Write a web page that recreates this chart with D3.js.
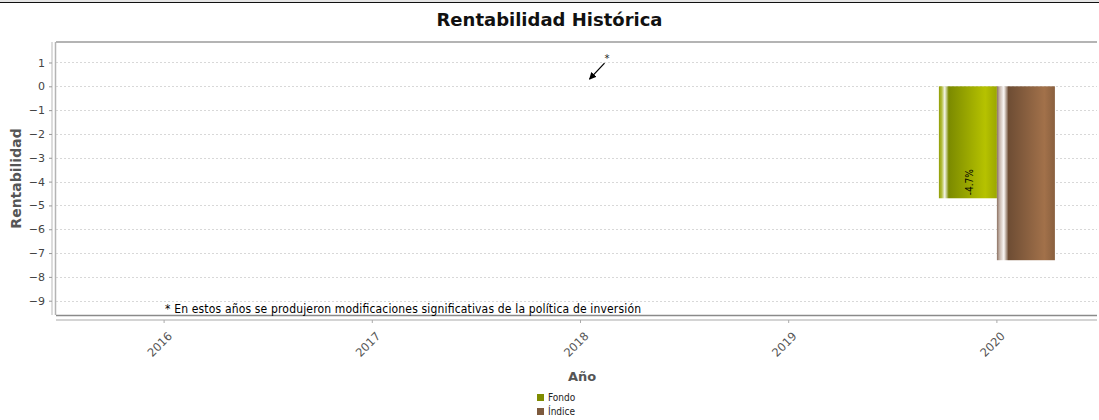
<!DOCTYPE html>
<html>
<head>
<meta charset="utf-8">
<script src="https://cdn.jsdelivr.net/npm/d3@7"></script>
<style>
  body { margin: 0; background: #fff; }
  svg { display: block; font-family: "DejaVu Sans", sans-serif; }
</style>
</head>
<body>
<div id="chart"></div>
<script>
// data
var years = ["2016", "2017", "2018", "2019", "2020"];
var fondo = [null, null, null, null, -4.7];
var indice = [null, null, null, null, -7.3];
var seriesNames = ["Fondo", "Índice"];
var yTicks = [1, 0, -1, -2, -3, -4, -5, -6, -7, -8, -9];
var noteText = "* En estos años se produjeron modificaciones significativas de la política de inversión";
var pointerYear = "2018";
var pointerValue = 0.3;

var width = 1099, height = 420;
var plot = {left: 56, top: 42, right: 1097, bottom: 315};

var svg = d3.select("#chart").append("svg").attr("width", width).attr("height", height);

// gradients for the bars
var defs = svg.append("defs");
function grad(id, stops) {
  var g = defs.append("linearGradient").attr("id", id).attr("x1", "0%").attr("x2", "100%").attr("y1", "0%").attr("y2", "0%");
  stops.forEach(function(s) { g.append("stop").attr("offset", s[0]).attr("stop-color", s[1]); });
}
grad("gFondo", [[0, "#8f9c00"], [0.05, "#b4bf40"], [0.1, "#f4f4ea"], [0.17, "#7b8a00"], [0.8, "#b6c200"], [1, "#9ba700"]]);
grad("gIndice", [[0, "#8d7262"], [0.05, "#c8b8ae"], [0.12, "#fbf8f6"], [0.2, "#6e4d34"], [0.82, "#a2714a"], [1, "#8a603f"]]);

// top frame line
svg.append("rect").attr("x", 0).attr("y", 0).attr("width", width).attr("height", 2).attr("fill", "#e4e4e4");
svg.append("line").attr("x1", 0).attr("x2", width).attr("y1", 2.5).attr("y2", 2.5).attr("stroke", "#111").attr("stroke-width", 1);

// title
svg.append("text").attr("x", width / 2).attr("y", 26).attr("text-anchor", "middle")
  .attr("font-size", 18).attr("font-weight", "bold").attr("fill", "#111")
  .text("Rentabilidad Histórica");

// scales
var x = d3.scaleBand().domain(years).range([plot.left + 4, plot.right + 4]).padding(0);
var y = d3.scaleLinear().domain([-9.6, 1.86]).range([plot.bottom, plot.top]);

// grid lines
svg.append("g").selectAll("line").data(yTicks).enter().append("line")
  .attr("x1", plot.left).attr("x2", plot.right)
  .attr("y1", function(d) { return Math.round(y(d)) + 0.5; })
  .attr("y2", function(d) { return Math.round(y(d)) + 0.5; })
  .attr("stroke", "#d8d8d8").attr("stroke-dasharray", "2,2");

// plot border
svg.append("line").attr("x1", plot.left).attr("x2", plot.right).attr("y1", plot.top).attr("y2", plot.top)
  .attr("stroke", "#b4b4b4").attr("stroke-width", 2);
svg.append("line").attr("x1", plot.left - 0.5).attr("x2", plot.left - 0.5).attr("y1", plot.top).attr("y2", plot.bottom)
  .attr("stroke", "#b4b4b4").attr("stroke-width", 1.5);
svg.append("line").attr("x1", plot.left).attr("x2", plot.right).attr("y1", plot.bottom + 0.5).attr("y2", plot.bottom + 0.5)
  .attr("stroke", "#8a8a8a").attr("stroke-width", 1.5);

// y axis
var yAxis = svg.append("g").attr("transform", "translate(52,0)")
  .call(d3.axisLeft(y).tickValues(yTicks).tickSize(3).tickPadding(4).tickFormat(d3.format("d")));
yAxis.select(".domain").attr("stroke", "#d0d0d0").attr("stroke-width", 1.5)
  .attr("d", "M0," + plot.top + "V" + plot.bottom);
yAxis.selectAll(".tick line").attr("stroke", "#999");
yAxis.selectAll(".tick text").attr("font-size", 11).attr("fill", "#444")
  .attr("font-family", "DejaVu Sans, sans-serif");

// x axis
var xAxis = svg.append("g").attr("transform", "translate(0,320)")
  .call(d3.axisBottom(x).tickSize(3).tickPadding(6));
xAxis.select(".domain").attr("stroke", "#d4d4d4").attr("stroke-width", 2)
  .attr("d", "M" + plot.left + ",0H" + plot.right);
xAxis.selectAll(".tick line").attr("stroke", "#aaa");
xAxis.selectAll(".tick text").attr("font-size", 11.5).attr("fill", "#555")
  .attr("font-family", "DejaVu Sans, sans-serif")
  .attr("text-anchor", "end").attr("y", 0).attr("dy", "0.35em")
  .attr("transform", "translate(6,14) rotate(-45)");

// axis titles
svg.append("text").attr("transform", "translate(21," + ((plot.top + plot.bottom) / 2) + ") rotate(-90)")
  .attr("text-anchor", "middle").attr("font-size", 14).attr("font-weight", "bold").attr("fill", "#555")
  .text("Rentabilidad");
svg.append("text").attr("x", 582).attr("y", 381).attr("text-anchor", "middle")
  .attr("font-size", 13).attr("font-weight", "bold").attr("fill", "#555")
  .text("Año");

// bars
var barW = 58;
var rows = [];
years.forEach(function(yr, i) {
  if (fondo[i] != null) rows.push({year: yr, v: fondo[i], s: 0});
  if (indice[i] != null) rows.push({year: yr, v: indice[i], s: 1});
});
svg.append("g").selectAll("rect").data(rows).enter().append("rect")
  .attr("x", function(d) { return x(d.year) + x.bandwidth() / 2 - barW + d.s * barW; })
  .attr("y", function(d) { return y(Math.max(0, d.v)); })
  .attr("width", barW)
  .attr("height", function(d) { return Math.abs(y(d.v) - y(0)); })
  .attr("fill", function(d) { return d.s == 0 ? "url(#gFondo)" : "url(#gIndice)"; });

// value label on Fondo bar
rows.filter(function(d) { return d.s == 0; }).forEach(function(d) {
  var cx = x(d.year) + x.bandwidth() / 2 - barW / 2 + 5;
  svg.append("text").attr("transform", "translate(" + cx + "," + (y(d.v) - 3) + ") rotate(-90)")
    .attr("font-size", 10).attr("fill", "#000").attr("font-family", "DejaVu Sans Condensed, sans-serif")
    .text(d.v.toFixed(1) + "%");
});

// pointer annotation
var px = x(pointerYear) + x.bandwidth() / 2 + 9, py = y(pointerValue);
defs.append("marker").attr("id", "arrow").attr("viewBox", "0 0 10 10").attr("refX", 9).attr("refY", 5)
  .attr("markerWidth", 6).attr("markerHeight", 6).attr("orient", "auto")
  .append("path").attr("d", "M0,0L10,5L0,10z").attr("fill", "#000");
svg.append("line").attr("x1", px + 15).attr("y1", py - 16).attr("x2", px).attr("y2", py)
  .attr("stroke", "#000").attr("stroke-width", 1.2).attr("marker-end", "url(#arrow)");
svg.append("text").attr("x", px + 15).attr("y", py - 17).attr("font-size", 10).attr("fill", "#222").text("*");

// footnote
svg.append("text").attr("x", 165).attr("y", 313).attr("font-size", 12)
  .attr("textLength", 476).attr("lengthAdjust", "spacing")
  .attr("font-family", "DejaVu Sans Condensed, sans-serif").attr("fill", "#000")
  .text(noteText);

// legend
var legend = svg.append("g").attr("transform", "translate(537,394)");
var legColors = ["#7f8c00", "#7d5a3d"];
seriesNames.forEach(function(n, i) {
  legend.append("rect").attr("x", 0).attr("y", i * 14).attr("width", 7).attr("height", 7).attr("fill", legColors[i]);
  legend.append("text").attr("x", 11).attr("y", i * 14 + 7).attr("font-size", 10)
    .attr("font-family", "DejaVu Sans Condensed, sans-serif").attr("fill", "#222").text(n);
});
</script>
</body>
</html>
